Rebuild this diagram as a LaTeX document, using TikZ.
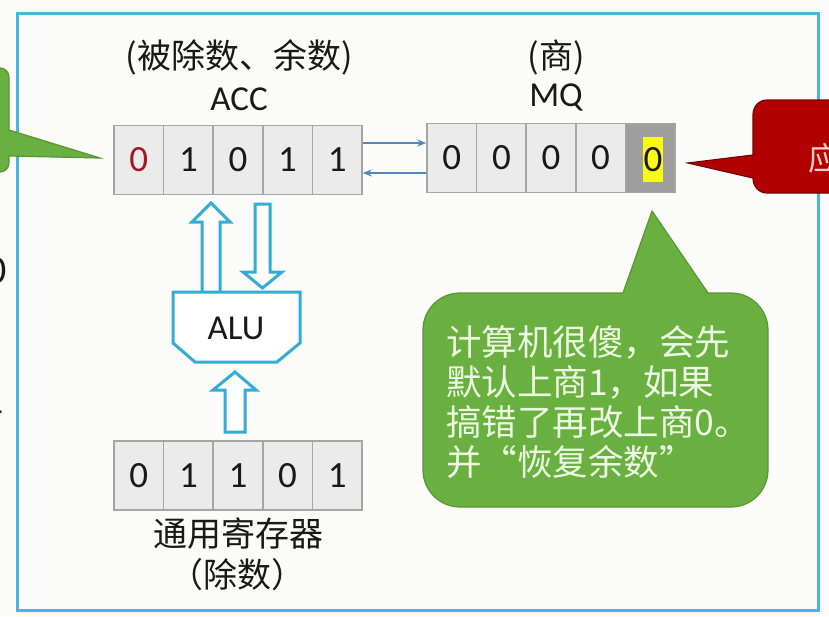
\documentclass[tikz,border=0pt]{standalone}
\usepackage{fontspec}
\setmainfont{Carlito}
\newfontfamily\cjk{Noto Sans CJK SC}
\usetikzlibrary{arrows.meta,calc}
\definecolor{framec}{RGB}{70,182,222}
\definecolor{aluc}{RGB}{52,172,214}
\definecolor{cellfill}{RGB}{235,235,235}
\definecolor{cellline}{RGB}{165,165,165}
\definecolor{darkcell}{RGB}{158,158,158}
\definecolor{reddigit}{RGB}{165,20,40}
\definecolor{linkc}{RGB}{85,135,190}
\definecolor{bgreen}{RGB}{106,176,64}
\definecolor{bgreenline}{RGB}{88,150,52}
\definecolor{bgtext}{RGB}{236,250,226}
\definecolor{bred}{RGB}{178,0,0}
\definecolor{bredline}{RGB}{120,0,0}
\definecolor{redtext}{RGB}{255,205,195}
\definecolor{bgc}{RGB}{251,251,249}
\definecolor{ink}{RGB}{25,25,25}
\definecolor{hl}{RGB}{250,250,20}
\begin{document}
\begin{tikzpicture}[x=1pt,y=-1pt,
  cell/.style={draw=cellline, fill=cellfill, line width=1.5pt, minimum width=49.6pt,
    minimum height=69pt, inner sep=0pt, font=\fontsize{37}{40}\selectfont, text=ink},
  lbl/.style={font=\cjk\fontsize{34}{40}\selectfont, text=ink, inner sep=0pt},
  latinlbl/.style={font=\fontsize{35}{40}\selectfont, text=ink, inner sep=0pt},
  hollow/.style={draw=aluc, line width=3pt, fill=white, line join=miter},
  link/.style={draw=linkc, line width=1.6pt, -{Stealth[length=9pt,width=7pt]}},
  gbubble/.style={fill=bgreen, draw=bgreenline, line width=1.2pt},
  rbubble/.style={fill=bred, draw=bredline, line width=1.2pt},
  gtext/.style={font=\cjk\fontsize{35.5}{40}\selectfont, text=bgtext, inner sep=0pt, align=left},
  frame/.style={draw=framec, line width=3pt}
]
\useasboundingbox (0,0) rectangle (829,616);
\fill[bgc] (0,0) rectangle (829,616);

% frame
\draw[frame] (17,13) rectangle (818,610);

% cut-off texts at the left (cut off in the reference too)
\node[font=\fontsize{40}{40}\selectfont, text=ink, anchor=east, inner sep=0pt] (l0) at (7,271) {0};
\node[font=\fontsize{40}{40}\selectfont, text=ink, anchor=east, inner sep=0pt] (l1) at (4,401) {1};

% left green bubble (partially visible)
\path[gbubble] (-60,68) -- (0,68) .. controls (5,68) and (9,72) .. (9,77) -- (9,130)
  -- (100,158) -- (9,156) -- (9,163) .. controls (9,168) and (5,172) .. (0,172) -- (-60,172) -- cycle;

% right red bubble (partially visible)
\path[rbubble] (767,100) -- (900,100) -- (900,193) -- (767,193)
  .. controls (758.7,193) and (753,186.3) .. (753,178) -- (688,163) -- (753,155)
  -- (753,115) .. controls (753,106.7) and (758.7,100) .. (767,100) -- cycle;
\node[font=\cjk\fontsize{32}{36}\selectfont, text=redtext, anchor=west, inner sep=0pt] (rt) at (808,158) {应};

% green bubble
\path[gbubble] (460,293) -- (623,293) -- (652,211) -- (708,293) -- (731,293)
  .. controls (751.4,293) and (768,309.6) .. (768,330) -- (768,470)
  .. controls (768,490.4) and (751.4,507) .. (731,507) -- (460,507)
  .. controls (439.6,507) and (423,490.4) .. (423,470) -- (423,330)
  .. controls (423,309.6) and (439.6,293) .. (460,293) -- cycle;
\node[gtext, anchor=west] (gt) at (446,402) {计算机很傻，会先\\默认上商1，如果\\搞错了再改上商0。\\并“恢复余数”};

% ACC register
\node[cell, text=reddigit] (a1) at (138.8,160) {0};
\node[cell] (a2) at (188.4,160) {1};
\node[cell] (a3) at (238.0,160) {0};
\node[cell] (a4) at (287.6,160) {1};
\node[cell] (a5) at (337.2,160) {1};

% MQ register
\node[cell] (m1) at (451.8,158) {0};
\node[cell] (m2) at (501.4,158) {0};
\node[cell] (m3) at (551.0,158) {0};
\node[cell] (m4) at (600.6,158) {0};
\node[cell, fill=darkcell] (m5) at (650.2,158) {};
\node[fill=hl, inner sep=0pt, minimum width=20pt, minimum height=45pt,
  font=\fontsize{37}{40}\selectfont, text=ink] (m5d) at (653,159.5) {0};

% general register
\node[cell] (g1) at (138.8,475.5) {0};
\node[cell] (g2) at (188.4,475.5) {1};
\node[cell] (g3) at (238.0,475.5) {1};
\node[cell] (g4) at (287.6,475.5) {0};
\node[cell] (g5) at (337.2,475.5) {1};

% links ACC <-> MQ
\coordinate (up1) at ([yshift=17pt]a5.east);
\coordinate (dn1) at ([yshift=-13pt]a5.east);
\draw[link] (up1) -- (up1 -| m1.west);
\draw[link] (dn1 -| m1.west) -- (dn1);

% ALU and hollow data arrows
\draw[hollow] (202,292) -- (202,222) -- (192,222) -- (211,203) -- (230,222) -- (220,222) -- (220,292);
\draw[hollow] (255,204) -- (255,272) -- (243,272) -- (262.5,288) -- (282,272) -- (270,272) -- (270,204) -- cycle;
\draw[hollow] (225,432) -- (225,390) -- (213,390) -- (235,372) -- (256,390) -- (245,390) -- (245,432) -- cycle;
\draw[hollow] (173,292) -- (300,292) -- (300,343) -- (277,362) -- (195,362) -- (173,343) -- cycle;
\node[latinlbl] (alu) at (236,328) {ALU};

% labels
\node[lbl] (acclbl) at (239,57) {(被除数、余数)};
\node[latinlbl, anchor=base] (accname) at (239,110) {ACC};
\node[lbl] (mqlbl) at (556,57.5) {(商)};
\node[latinlbl, anchor=base] (mqname) at (556,106) {MQ};
\node[lbl] (grlbl) at (238,534) {通用寄存器};
\node[lbl] (grlbl2) at (237,575) {（除数）};
\end{tikzpicture}
\end{document}
